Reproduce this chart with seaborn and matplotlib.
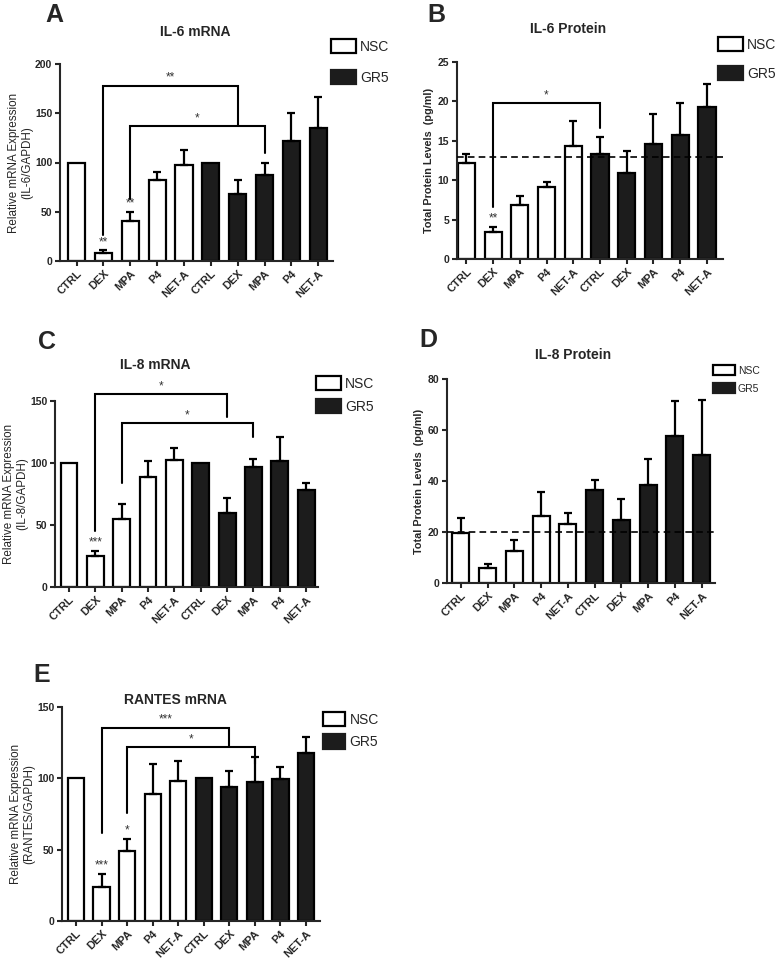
import matplotlib
matplotlib.use('Agg')
import matplotlib.pyplot as plt
from matplotlib.patches import Patch
import numpy as np
import pandas as pd
import seaborn as sns

treatments = ['CTRL', 'DEX', 'MPA', 'P4', 'NET-A']
cells = ['NSC', 'GR5']

# A - IL-6 mRNA
il6_mrna_nsc = [100, 8.5, 41, 82, 97]
il6_mrna_nsc_sem = [0, 3, 9, 8, 16]
il6_mrna_gr5 = [100, 68, 87, 122, 135]
il6_mrna_gr5_sem = [0, 14, 13, 28, 32]

# B - IL-6 protein
il6_prot_nsc = [12.2, 3.4, 6.9, 9.1, 14.3]
il6_prot_nsc_sem = [1.1, 0.7, 1.1, 0.7, 3.2]
il6_prot_gr5 = [13.3, 10.9, 14.6, 15.7, 19.3]
il6_prot_gr5_sem = [2.2, 2.8, 3.8, 4.1, 2.9]
il6_prot_ref = 13

# C - IL-8 mRNA
il8_mrna_nsc = [100, 25, 55, 88.6, 102.6]
il8_mrna_nsc_sem = [0, 4, 11.6, 13.4, 9.4]
il8_mrna_gr5 = [100, 60, 97, 101.5, 78.6]
il8_mrna_gr5_sem = [0, 12, 6, 19.2, 5.4]

# D - IL-8 protein
il8_prot_nsc = [19.8, 6.0, 12.4, 26.4, 23.3]
il8_prot_nsc_sem = [5.5, 1.3, 4.6, 9.1, 4.1]
il8_prot_gr5 = [36.6, 24.6, 38.4, 57.6, 50.1]
il8_prot_gr5_sem = [3.7, 8.5, 10.4, 13.9, 21.6]
il8_prot_ref = 20

# E - RANTES mRNA
rantes_nsc = [100, 23.6, 49, 89.2, 98.3]
rantes_nsc_sem = [0, 9.4, 8.3, 20.8, 14]
rantes_gr5 = [100, 93.6, 97.6, 99.7, 117.7]
rantes_gr5_sem = [0, 11.2, 17.4, 8.3, 11.3]

# significance brackets: (bar1, bar2, top, leg1 end, leg2 end, label)
brackets_a = [(1, 6, 178, 26, 138, '**'), (2, 7, 137, 63, 110, '*')]
stars_a = [(1, 13, '**'), (2, 52, '**')]
brackets_b = [(1, 5, 19.8, 6.6, 16.6, '*')]
stars_b = [(1, 4.4, '**')]
brackets_c = [(1, 6, 155.4, 45, 137, '*'), (2, 7, 132, 84, 120.6, '*')]
stars_c = [(1, 31, '***')]
brackets_e = [(1, 6, 135.3, 61.5, 123, '***'), (2, 7, 121.7, 76, 110, '*')]
stars_e = [(1, 35, '***'), (2, 59, '*')]

sns.set_style('ticks')
plt.rcParams['font.family'] = ['Liberation Sans', 'DejaVu Sans']

W, H = 781, 965
fig = plt.figure(figsize=(W / 100, H / 100), dpi=100)


def px_rect(l, t, r, b):
    return [l / W, 1 - b / H, (r - l) / W, (b - t) / H]


def panel(rect, nsc, nsc_sem, gr5, gr5_sem, ylim, yticks, xlim, ylabel,
          title, title_xy, letter, letter_xy, leg_xy, leg_fs=10,
          leg_space=1.1, leg_hl=1.8, leg_hh=1.15, ylab_bold=True,
          ref=None, brackets=(), stars=()):
    ax = fig.add_axes(px_rect(*rect))
    df = pd.DataFrame({
        'key': [f'{c} {t}' for c in cells for t in treatments],
        'value': nsc + gr5,
        'sem': nsc_sem + gr5_sem,
        'cell': [c for c in cells for _ in treatments],
    })
    sns.barplot(data=df, x='key', y='value', hue='cell',
                palette={'NSC': 'white', 'GR5': '#1c1c1c'},
                edgecolor='black', linewidth=1.6, width=0.64, dodge=False,
                errorbar=None, legend=False, ax=ax)
    x = np.arange(len(df))
    m = df['sem'].values > 0
    ax.errorbar(x[m], df['value'].values[m],
                yerr=[np.zeros(m.sum()), df['sem'].values[m]],
                fmt='none', ecolor='black', elinewidth=1.6, capsize=3.2,
                capthick=1.6, zorder=1)
    if ref is not None:
        ax.axhline(ref, color='black', lw=1.2, ls=(0, (4, 2.5)), zorder=5)
    for x1, x2, top, l1, l2, lab in brackets:
        ax.plot([x1, x1, x2, x2], [l1, top, top, l2], color='black', lw=1.5,
                solid_joinstyle='miter', zorder=6, clip_on=False)
        ax.text((x1 + x2) / 2, top + (ylim[1] * 0.01), lab, ha='center',
                va='bottom', fontsize=8.5, color='#333333')
    for xs, ys, lab in stars:
        ax.text(xs, ys, lab, ha='center', va='bottom', fontsize=8.5,
                color='#333333')
    ax.set_xlim(*xlim)
    ax.set_ylim(*ylim)
    ax.set_yticks(yticks)
    ax.set_xticks(x)
    ax.set_xticklabels(treatments * 2, rotation=45, ha='right',
                       rotation_mode='anchor', fontsize=8, fontweight='bold')
    for lbl in ax.get_yticklabels():
        lbl.set_fontsize(7.5)
        lbl.set_fontweight('bold')
    ax.set_xlabel('')
    if ylab_bold:
        ax.set_ylabel(ylabel, fontsize=7.8, fontweight='bold', labelpad=3)
    else:
        ax.set_ylabel(ylabel, fontsize=8.4, fontweight='medium', labelpad=1.5,
                      linespacing=1.1)
    sns.despine(ax=ax)
    for s in ['left', 'bottom']:
        ax.spines[s].set_linewidth(1.5)
    ax.tick_params(width=1.5, length=3.5, pad=2)
    fig.text(title_xy[0] / W, 1 - title_xy[1] / H, title, ha='center',
             va='center', fontsize=10, fontweight='bold')
    fig.text(letter_xy[0] / W, 1 - letter_xy[1] / H, letter, ha='center',
             va='center', fontsize=18, fontweight='bold')
    handles = [Patch(facecolor='white', edgecolor='black', lw=1.6, label='NSC'),
               Patch(facecolor='#1c1c1c', edgecolor='#1c1c1c', lw=1.6, label='GR5')]
    fig.legend(handles=handles, loc='upper left',
               bbox_to_anchor=(leg_xy[0] / W, 1 - leg_xy[1] / H),
               frameon=False, fontsize=leg_fs, handlelength=leg_hl,
               handleheight=leg_hh, handletextpad=0.3, labelspacing=leg_space,
               borderpad=0, borderaxespad=0)
    return ax


panel((60, 64, 333, 261), il6_mrna_nsc, il6_mrna_nsc_sem, il6_mrna_gr5,
      il6_mrna_gr5_sem, (0, 200), [0, 50, 100, 150, 200], (-0.62, 9.55),
      'Relative mRNA Expression\n(IL-6/GAPDH)', 'IL-6 mRNA', (195, 32),
      'A', (54, 15), (331, 39), leg_space=1.2, ylab_bold=False,
      brackets=brackets_a, stars=stars_a)

panel((457, 62, 723, 259), il6_prot_nsc, il6_prot_nsc_sem, il6_prot_gr5,
      il6_prot_gr5_sem, (0, 25), [0, 5, 10, 15, 20, 25], (-0.35, 9.6),
      'Total Protein Levels  (pg/ml)', 'IL-6 Protein', (568, 29),
      'B', (436, 15), (718, 37), leg_space=1.05, ref=il6_prot_ref,
      brackets=brackets_b, stars=stars_b)

panel((55, 401, 318, 587), il8_mrna_nsc, il8_mrna_nsc_sem, il8_mrna_gr5,
      il8_mrna_gr5_sem, (0, 150), [0, 50, 100, 150], (-0.53, 9.45),
      'Relative mRNA Expression\n(IL-8/GAPDH)', 'IL-8 mRNA', (155, 365),
      'C', (47, 342), (316, 376), leg_space=0.6, leg_hh=1.2, ylab_bold=False,
      brackets=brackets_c, stars=stars_c)

panel((447, 379, 715, 583), il8_prot_nsc, il8_prot_nsc_sem, il8_prot_gr5,
      il8_prot_gr5_sem, (0, 80), [0, 20, 40, 60, 80], (-0.52, 9.5),
      'Total Protein Levels  (pg/ml)', 'IL-8 Protein', (573, 355),
      'D', (428, 340), (713, 365), leg_fs=7.5, leg_space=0.7,
      leg_hl=2.1, leg_hh=1.15, ref=il8_prot_ref)

panel((62, 707, 320, 921), rantes_nsc, rantes_nsc_sem, rantes_gr5,
      rantes_gr5_sem, (0, 150), [0, 50, 100, 150], (-0.55, 9.55),
      'Relative mRNA Expression\n(RANTES/GAPDH)', 'RANTES mRNA', (175, 700),
      'E', (42, 675), (323, 712), leg_space=0.55, leg_hl=1.6, leg_hh=1.2,
      ylab_bold=False, brackets=brackets_e, stars=stars_e)

fig.savefig('out.png', dpi=100)
